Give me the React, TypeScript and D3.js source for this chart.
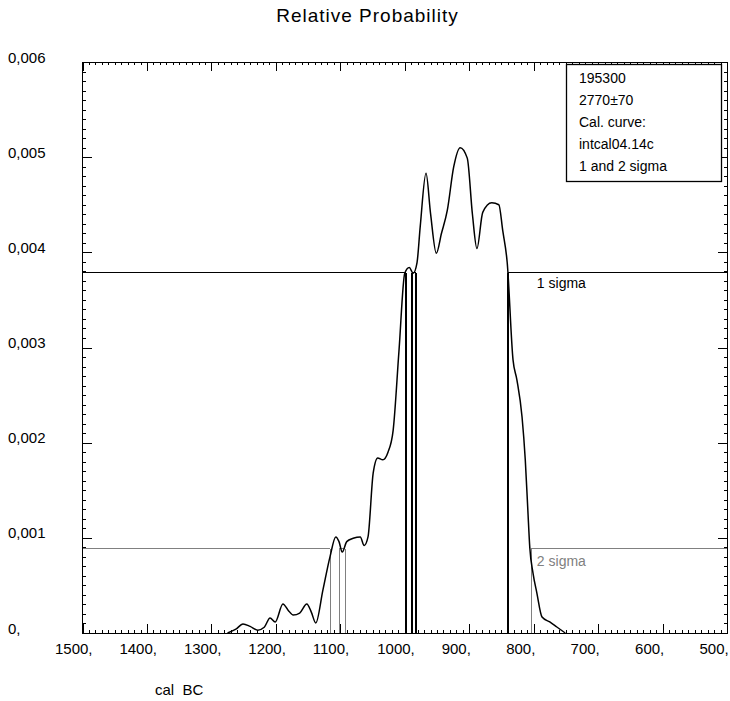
import React from "react";
import * as d3 from "d3";

// ---- data ----
const curveYears = [1275, 1262, 1251, 1240, 1228, 1218, 1209, 1201, 1189, 1181, 1173, 1163, 1152, 1145, 1138, 1127, 1116, 1107, 1102, 1097, 1090, 1080, 1069, 1063, 1057, 1049, 1042, 1034, 1026, 1018, 1009, 1000, 993, 987, 981, 976, 967, 960, 951, 943, 934, 924, 914, 903, 895, 888, 879, 865, 854, 848, 841, 832, 826, 818, 813, 809, 806, 801, 795, 787, 775, 764, 751];
const curveProbs = [0, 0.00004, 0.000095, 0.00007, 0.00003, 0.00006, 0.000158, 0.000116, 0.000305, 0.00024, 0.000189, 0.00021, 0.000305, 0.00022, 0.000105, 0.00045, 0.0008, 0.00101, 0.00096, 0.00085, 0.00096, 0.000995, 0.00101, 0.00092, 0.00101, 0.00168, 0.00184, 0.00182, 0.0019, 0.00213, 0.00296, 0.00378, 0.00384, 0.00378, 0.00389, 0.00427, 0.00483, 0.00441, 0.00399, 0.0042, 0.00444, 0.0049, 0.0051, 0.00499, 0.0044, 0.00404, 0.00442, 0.00452, 0.0045, 0.00423, 0.00389, 0.00287, 0.00266, 0.00227, 0.00182, 0.00129, 0.0009, 0.00063, 0.00042, 0.000168, 0.000116, 0.000063, 0];

const sigma1Level = 0.00379;
const sigma2Level = 0.00089;
const sigma1Ranges: [number, number][] = [[998, 989], [983, 840]];
const sigma2Ranges: [number, number][] = [[1116, 1102], [1093, 804]];

const xTickValues = [1500, 1400, 1300, 1200, 1100, 1000, 900, 800, 700, 600, 500];
const xTickLabels = ["1500,", "1400,", "1300,", "1200,", "1100,", "1000,", "900,", "800,", "700,", "600,", "500,"];
const yTickValues = [0, 0.001, 0.002, 0.003, 0.004, 0.005, 0.006];
const yTickLabels = ["0,", "0,001", "0,002", "0,003", "0,004", "0,005", "0,006"];

const legendLines = ["195300", "2770±70", "Cal. curve:", "intcal04.14c", "1 and 2 sigma"];
const title = "Relative Probability";
const xTitle = "cal  BC";

const W = 730, H = 701;
const L = 82.5, R = 727, T = 62, B = 633;
const FONT = "'Liberation Sans', Arial, sans-serif";
const GRAY = "#808080";

export default function App() {
  const x = d3.scaleLinear().domain([1500, 500]).range([L, R]);
  const y = d3.scaleLinear().domain([0, 0.006]).range([B, T]);

  const pts: [number, number][] = curveYears.map((yr, i) => [yr, curveProbs[i]]);
  const line = d3.line<[number, number]>()
    .x(d => x(d[0]))
    .y(d => y(d[1]))
    .curve(d3.curveMonotoneX);

  const xMinor = d3.range(500, 1501, 10);
  const yMinor = d3.range(0, 61).map(i => i * 0.0001);

  const gaps = (ranges: [number, number][]) => {
    const segs: [number, number][] = [];
    let start = 1500;
    ranges.forEach(([a, b]) => { segs.push([start, a]); start = b; });
    segs.push([start, 500]);
    return segs;
  };

  const y1 = Math.round(y(sigma1Level)) + 0.5;
  const y2 = Math.round(y(sigma2Level)) + 0.5;

  return (
    <svg width={W} height={H} style={{ position: "absolute", left: 0, top: 0, background: "#fff" }} fontFamily={FONT}>
      <rect x={0} y={0} width={W} height={H} fill="#fff" />
      {/* title */}
      <text x={367.5} y={22} textAnchor="middle" fontSize={19} letterSpacing={1} fill="#000">{title}</text>

      {/* sigma horizontal lines */}
      {gaps(sigma2Ranges).map(([a, b], i) => (
        <line key={"h2" + i} x1={x(a)} x2={x(b)} y1={y2} y2={y2} stroke={GRAY} strokeWidth={1} shapeRendering="crispEdges" />
      ))}
      {gaps(sigma1Ranges).map(([a, b], i) => (
        <line key={"h1" + i} x1={x(a)} x2={x(b)} y1={y1} y2={y1} stroke="#000" strokeWidth={1} shapeRendering="crispEdges" />
      ))}
      {/* sigma vertical lines */}
      {sigma2Ranges.flat().map((v, i) => (
        <line key={"v2" + i} x1={Math.round(x(v)) + 0.5} x2={Math.round(x(v)) + 0.5} y1={B} y2={y2} stroke={GRAY} strokeWidth={1} shapeRendering="crispEdges" />
      ))}
      {sigma1Ranges.flat().map((v, i) => (
        <line key={"v1" + i} x1={Math.round(x(v))} x2={Math.round(x(v))} y1={B} y2={y1} stroke="#000" strokeWidth={2} shapeRendering="crispEdges" />
      ))}

      {/* curve */}
      <path d={line(pts) || ""} fill="none" stroke="#000" strokeWidth={1.5} />

      {/* sigma labels */}
      <text x={x(795)} y={y1 + 15} fontSize={14} fill="#000">1 sigma</text>
      <text x={x(795)} y={y2 + 17} fontSize={14} fill={GRAY}>2 sigma</text>

      {/* frame */}
      <rect x={L} y={T + 0.5} width={R - L} height={B - T} fill="none" stroke="#000" strokeWidth={1} shapeRendering="crispEdges" />

      {/* x ticks */}
      {xMinor.map(v => {
        const major = v % 100 === 0;
        const len = major ? 9 : 3;
        const px = Math.round(x(v)) + 0.5;
        return (
          <g key={"xt" + v}>
            <line x1={px} x2={px} y1={B} y2={B - len} stroke="#000" strokeWidth={1} shapeRendering="crispEdges" />
            <line x1={px} x2={px} y1={T} y2={T + len} stroke="#000" strokeWidth={1} shapeRendering="crispEdges" />
          </g>
        );
      })}
      {/* y ticks */}
      {yMinor.map((v, i) => {
        const major = i % 10 === 0;
        const len = major ? 9 : 3;
        const py = Math.round(y(v)) + 0.5;
        return (
          <g key={"yt" + i}>
            <line x1={L} x2={L + len} y1={py} y2={py} stroke="#000" strokeWidth={1} shapeRendering="crispEdges" />
            <line x1={R} x2={R - len} y1={py} y2={py} stroke="#000" strokeWidth={1} shapeRendering="crispEdges" />
          </g>
        );
      })}

      {/* tick labels */}
      {xTickValues.map((v, i) => (
        <text key={"xl" + v} x={x(v) - 27.5} y={654} fontSize={15} fill="#000">{xTickLabels[i]}</text>
      ))}
      {yTickValues.map((v, i) => (
        <text key={"yl" + i} x={8} y={y(v) + 0.5} fontSize={15} fill="#000">{yTickLabels[i]}</text>
      ))}

      {/* x title */}
      <text x={155} y={695} fontSize={15} fill="#000" style={{ whiteSpace: "pre" }}>{xTitle}</text>

      {/* legend */}
      <rect x={566.5} y={64.5} width={155} height={117} fill="#fff" stroke="#000" strokeWidth={1.3} />
      {legendLines.map((s, i) => (
        <text key={"lg" + i} x={579} y={83 + i * 22} fontSize={14} fill="#000">{s}</text>
      ))}
    </svg>
  );
}
